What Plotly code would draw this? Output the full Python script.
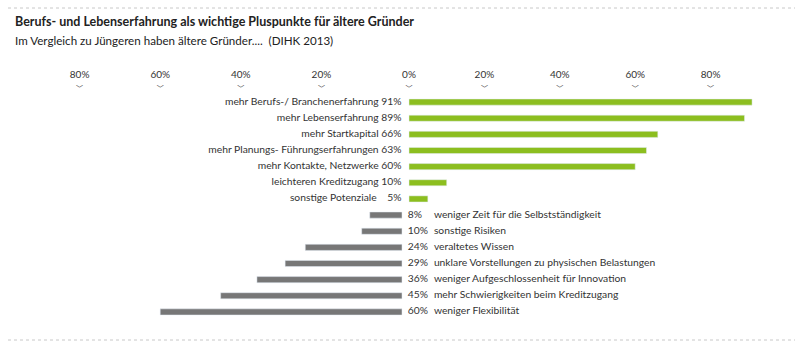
import plotly.graph_objects as go

# ---- data ----
pro_labels = ["mehr Berufs-/ Branchenerfahrung", "mehr Lebenserfahrung", "mehr Startkapital",
              "mehr Planungs- Führungserfahrungen", "mehr Kontakte, Netzwerke",
              "leichteren Kreditzugang", "sonstige Potenziale"]
pro_values = [91, 89, 66, 63, 60, 10, 5]

con_labels = ["weniger Zeit für die Selbstständigkeit", "sonstige Risiken", "veraltetes Wissen",
              "unklare Vorstellungen zu physischen Belastungen",
              "weniger Aufgeschlossenheit für Innovation",
              "mehr Schwierigkeiten beim Kreditzugang", "weniger Flexibilität"]
con_values = [8, 10, 24, 29, 36, 45, 60]

right_ticks = [0, 20, 40, 60, 80]
left_ticks = [20, 40, 60, 80]

title = "Berufs- und Lebenserfahrung als wichtige Pluspunkte für ältere Gründer"
subtitle = "Im Vergleich zu Jüngeren haben ältere Gründer....  (DIHK 2013)"

GREEN = "#8cbe1f"
GREY = "#777777"
FONT = "Lato"
TXT = "#333333"
LBL = 10.3

pro_rows = list(range(len(pro_values)))
con_rows = [len(pro_values) + i for i in range(len(con_values))]

fig = go.Figure()

# green bars (positive side)
fig.add_trace(go.Bar(
    x=pro_values, y=pro_rows, orientation="h", marker_color=GREEN,
    width=0.38, xaxis="x", yaxis="y", hoverinfo="skip", showlegend=False))
# grey bars (negative side)
fig.add_trace(go.Bar(
    x=[-v for v in con_values], y=con_rows, orientation="h", marker_color=GREY,
    width=0.38, xaxis="x2", yaxis="y", hoverinfo="skip", showlegend=False))

# labels for green bars (right aligned left of zero)
fig.add_trace(go.Scatter(
    x=[-2.0] * len(pro_values), y=pro_rows, mode="text",
    text=[f"{l} {v}%" if v >= 10 else f"{l}    {v}%" for l, v in zip(pro_labels, pro_values)],
    textposition="middle left", textfont=dict(family=FONT, size=LBL, color=TXT),
    xaxis="x", yaxis="y", hoverinfo="skip", showlegend=False))

# percentages for grey bars
fig.add_trace(go.Scatter(
    x=[-0.3] * len(con_values), y=con_rows, mode="text",
    text=[f"{v}%" for v in con_values],
    textposition="middle right", textfont=dict(family=FONT, size=LBL, color=TXT),
    xaxis="x", yaxis="y", hoverinfo="skip", showlegend=False))
# labels for grey bars
fig.add_trace(go.Scatter(
    x=[6.6] * len(con_values), y=con_rows, mode="text",
    text=con_labels,
    textposition="middle right", textfont=dict(family=FONT, size=LBL, color=TXT),
    xaxis="x", yaxis="y", hoverinfo="skip", showlegend=False))

W, H = 800, 350
zero_g, scale_g = 409, 3.77
zero_r, scale_r = 402, 4.03

CHEV = "<span style='font-size:7px;font-family:\"Noto Sans CJK SC\"'>﹀</span>"

fig.update_layout(
    width=W, height=H,
    margin=dict(l=0, r=0, t=94, b=30),
    paper_bgcolor="white", plot_bgcolor="white",
    font=dict(family=FONT, size=11, color=TXT),
    barmode="overlay",
    xaxis=dict(range=[-zero_g / scale_g, (W - zero_g) / scale_g], side="top",
               tickvals=right_ticks, ticktext=[f"{t}%<br>{CHEV}" for t in right_ticks],
               showgrid=False, zeroline=False, showline=False, ticks="",
               tickfont=dict(family=FONT, size=10, color=TXT)),
    xaxis2=dict(range=[-zero_r / scale_r, (W - zero_r) / scale_r], side="top",
                overlaying="x", tickvals=[-t for t in left_ticks],
                ticktext=[f"{t}%<br>{CHEV}" for t in left_ticks],
                showgrid=False, zeroline=False, showline=False, ticks="",
                tickfont=dict(family=FONT, size=10, color=TXT)),
    yaxis=dict(range=[13.5, -0.5], visible=False),
    annotations=[
        dict(text=f"<b>{title}</b>", x=13 / W, y=(320 - 22) / 226, xref="paper", yref="paper",
             xanchor="left", yanchor="middle", showarrow=False,
             font=dict(family=FONT, size=12.5, color="#222")),
        dict(text=subtitle, x=13 / W, y=(320 - 40) / 226, xref="paper", yref="paper",
             xanchor="left", yanchor="middle", showarrow=False,
             font=dict(family=FONT, size=11.6, color="#222")),
    ],
    shapes=[
        dict(type="line", xref="paper", yref="paper", x0=8 / W, x1=795 / W,
             y0=(320 - 8) / 226, y1=(320 - 8) / 226, line=dict(color="#c8c8c8", width=1, dash="dot")),
        dict(type="line", xref="paper", yref="paper", x0=8 / W, x1=795 / W,
             y0=(320 - 340) / 226, y1=(320 - 340) / 226, line=dict(color="#c8c8c8", width=1, dash="dot")),
    ],
)

fig.write_html("out.html")
